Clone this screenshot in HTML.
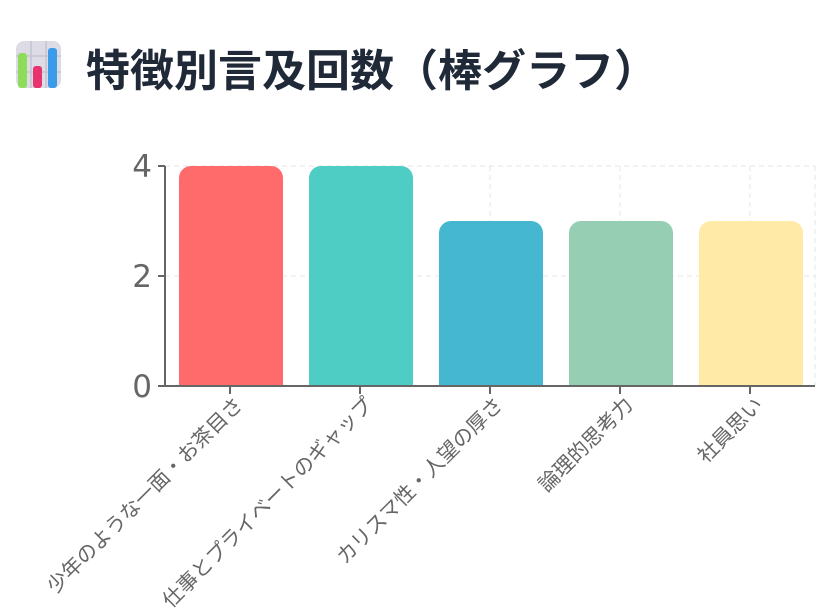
<!DOCTYPE html>
<html><head><meta charset="utf-8"><style>
body{margin:0;background:#fff;width:839px;height:614px;overflow:hidden;font-family:"Liberation Sans","Noto Sans CJK JP",sans-serif;}
</style></head><body>
<svg width="839" height="614" xmlns="http://www.w3.org/2000/svg" style="position:absolute;left:0;top:0">
  <rect x="16" y="41" width="45" height="47" rx="8" fill="#dcdbe6"/>
  <line x1="31" y1="41" x2="31" y2="88" stroke="#c5c4d2" stroke-width="1.5"/>
  <line x1="46" y1="41" x2="46" y2="88" stroke="#c5c4d2" stroke-width="1.5"/>
  <line x1="16" y1="56" x2="61" y2="56" stroke="#c5c4d2" stroke-width="1.5"/>
  <line x1="16" y1="72" x2="61" y2="72" stroke="#c5c4d2" stroke-width="1.5"/>
  <rect x="18" y="53" width="9" height="35" rx="3" fill="#8fdc5a"/>
  <rect x="33" y="66" width="9" height="22" rx="3" fill="#e8336e"/>
  <rect x="48" y="48" width="9" height="40" rx="3" fill="#3a9be8"/>
  <text x="86" y="86" font-size="44" font-weight="bold" fill="#1f2937" font-family="'Liberation Sans','Noto Sans CJK JP',sans-serif">特徴別言及回数（棒グラフ）</text>

  <g stroke="#e5e5e5" stroke-width="1" stroke-dasharray="5,4" fill="none">
    <line x1="165" y1="166" x2="815" y2="166"/>
    <line x1="165" y1="276" x2="815" y2="276"/>
    <line x1="230" y1="166" x2="230" y2="386"/>
    <line x1="360" y1="166" x2="360" y2="386"/>
    <line x1="490" y1="166" x2="490" y2="386"/>
    <line x1="620" y1="166" x2="620" y2="386"/>
    <line x1="750" y1="166" x2="750" y2="386"/>
    <line x1="815" y1="166" x2="815" y2="386"/>
  </g>

  <path d="M179 386 V178 a12 12 0 0 1 12 -12 H271 a12 12 0 0 1 12 12 V386 Z" fill="#ff6b6b"/>
  <path d="M309 386 V178 a12 12 0 0 1 12 -12 H401 a12 12 0 0 1 12 12 V386 Z" fill="#4ecdc4"/>
  <path d="M439 386 V233 a12 12 0 0 1 12 -12 H531 a12 12 0 0 1 12 12 V386 Z" fill="#45b7d1"/>
  <path d="M569 386 V233 a12 12 0 0 1 12 -12 H661 a12 12 0 0 1 12 12 V386 Z" fill="#96ceb4"/>
  <path d="M699 386 V233 a12 12 0 0 1 12 -12 H791 a12 12 0 0 1 12 12 V386 Z" fill="#ffeaa7"/>

  <g stroke="#666" stroke-width="2" fill="none">
    <line x1="165" y1="166" x2="165" y2="386"/>
    <line x1="158" y1="166" x2="165" y2="166"/>
    <line x1="158" y1="276" x2="165" y2="276"/>
    <line x1="158" y1="386" x2="815" y2="386"/>
    <line x1="230" y1="386" x2="230" y2="394"/>
    <line x1="360" y1="386" x2="360" y2="394"/>
    <line x1="490" y1="386" x2="490" y2="394"/>
    <line x1="620" y1="386" x2="620" y2="394"/>
    <line x1="750" y1="386" x2="750" y2="394"/>
  </g>
  <g fill="#666" font-size="31" text-anchor="end" font-family="'DejaVu Sans','Liberation Sans',sans-serif">
    <text x="152" y="177">4</text>
    <text x="152" y="287">2</text>
    <text x="152" y="397">0</text>
  </g>
  <g fill="#666" font-size="20.5" text-anchor="end" font-family="'Liberation Sans','Noto Sans CJK JP',sans-serif">
    <text transform="translate(244,406) rotate(-45)">少年のような一面・お茶目さ</text>
    <text transform="translate(374,406) rotate(-45)">仕事とプライベートのギャップ</text>
    <text transform="translate(504,406) rotate(-45)">カリスマ性・人望の厚さ</text>
    <text transform="translate(634,406) rotate(-45)">論理的思考力</text>
    <text transform="translate(764,406) rotate(-45)">社員思い</text>
  </g>
</svg>
</body></html>
